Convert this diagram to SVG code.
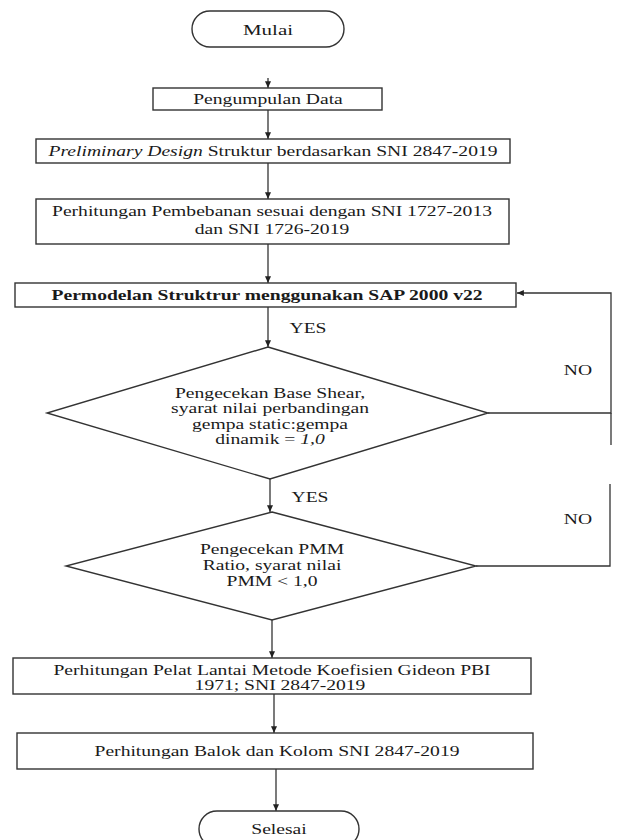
<svg xmlns="http://www.w3.org/2000/svg" width="618" height="840" viewBox="0 0 618 840">
<defs>
<marker id="ah" viewBox="0 0 8 7" refX="8" refY="3.5" markerWidth="7" markerHeight="6" markerUnits="userSpaceOnUse" orient="auto">
<path d="M0,0 L8,3.5 L0,7 z" fill="#222"/>
</marker>
<style>
.box{fill:#fff;stroke:#333;stroke-width:1.4}
.ln{fill:none;stroke:#333;stroke-width:1.3}
.t{font-family:"Liberation Serif","Times New Roman",serif;font-size:14px;fill:#1a1a1a;text-anchor:middle}
.b{font-weight:bold}
.i{font-style:italic}
</style>
</defs>
<rect width="618" height="840" fill="#fff"/>
<g id="connectors">
<path class="ln" d="M268,78 V88" marker-end="url(#ah)"/>
<path class="ln" d="M268,110 V139" marker-end="url(#ah)"/>
<path class="ln" d="M268,163 V199" marker-end="url(#ah)"/>
<path class="ln" d="M268,244 V283" marker-end="url(#ah)"/>
<path class="ln" d="M268,307 V347" marker-end="url(#ah)"/>
<path class="ln" d="M270,479 V512" marker-end="url(#ah)"/>
<path class="ln" d="M272,620 V658" marker-end="url(#ah)"/>
<path class="ln" d="M274,694 V733" marker-end="url(#ah)"/>
<path class="ln" d="M276,769 V811" marker-end="url(#ah)"/>
<path class="ln" d="M488,413 H611 V293 H517" marker-end="url(#ah)"/>
<path class="ln" d="M611,413 V445"/>
<path class="ln" d="M476,566 H610 V484"/>
<text class="t" transform="translate(308,333) scale(1.4,1)">YES</text>
<text class="t" transform="translate(578,375) scale(1.4,1)">NO</text>
<text class="t" transform="translate(310,502) scale(1.4,1)">YES</text>
<text class="t" transform="translate(578,524) scale(1.4,1)">NO</text>
</g>
<g id="mulai">
<rect class="box" x="192" y="11" width="152" height="36" rx="18"/>
<text class="t" style="font-size:15px" transform="translate(268,35) scale(1.4,1)">Mulai</text>
</g>
<g id="pengumpulan">
<rect class="box" x="153" y="88" width="229" height="22"/>
<text class="t" transform="translate(268,104) scale(1.4,1)">Pengumpulan Data</text>
</g>
<g id="preliminary">
<rect class="box" x="36" y="139" width="474" height="24"/>
<text class="t" transform="translate(273,156) scale(1.4,1)"><tspan class="i">Preliminary Design</tspan> Struktur berdasarkan SNI 2847-2019</text>
</g>
<g id="pembebanan">
<rect class="box" x="36" y="199" width="473" height="45"/>
<text class="t" transform="translate(272,216) scale(1.4,1)">Perhitungan Pembebanan sesuai dengan SNI 1727-2013</text>
<text class="t" transform="translate(272,234) scale(1.4,1)">dan SNI 1726-2019</text>
</g>
<g id="permodelan">
<rect class="box" x="15" y="283" width="501" height="24"/>
<text class="t b" transform="translate(267,300) scale(1.4,1)">Permodelan Struktrur menggunakan SAP 2000 v22</text>
</g>
<g id="cek-base-shear">
<polygon class="box" points="268,347 488,413 270,479 47,413"/>
<text class="t" transform="translate(270,398) scale(1.4,1)">Pengecekan Base Shear,</text>
<text class="t" transform="translate(270,413) scale(1.4,1)">syarat nilai perbandingan</text>
<text class="t" transform="translate(270,429) scale(1.4,1)">gempa static:gempa</text>
<text class="t" transform="translate(270,444) scale(1.4,1)">dinamik = <tspan class="i">1,0</tspan></text>
</g>
<g id="cek-pmm">
<polygon class="box" points="272,512 476,566 272,620 66,566"/>
<text class="t" transform="translate(272,554) scale(1.4,1)">Pengecekan PMM</text>
<text class="t" transform="translate(272,570) scale(1.4,1)">Ratio, syarat nilai</text>
<text class="t" transform="translate(272,586) scale(1.4,1)">PMM &lt; 1,0</text>
</g>
<g id="pelat">
<rect class="box" x="13" y="658" width="518" height="36"/>
<text class="t" transform="translate(272,675) scale(1.4,1)">Perhitungan Pelat Lantai Metode Koefisien Gideon PBI</text>
<text class="t" transform="translate(280,690) scale(1.4,1)">1971; SNI 2847-2019</text>
</g>
<g id="balok">
<rect class="box" x="17" y="733" width="516" height="36"/>
<text class="t" transform="translate(277,756) scale(1.4,1)">Perhitungan Balok dan Kolom SNI 2847-2019</text>
</g>
<g id="selesai">
<rect class="box" x="199" y="811" width="160" height="36" rx="18"/>
<text class="t" transform="translate(279,834) scale(1.4,1)">Selesai</text>
</g>
</svg>
